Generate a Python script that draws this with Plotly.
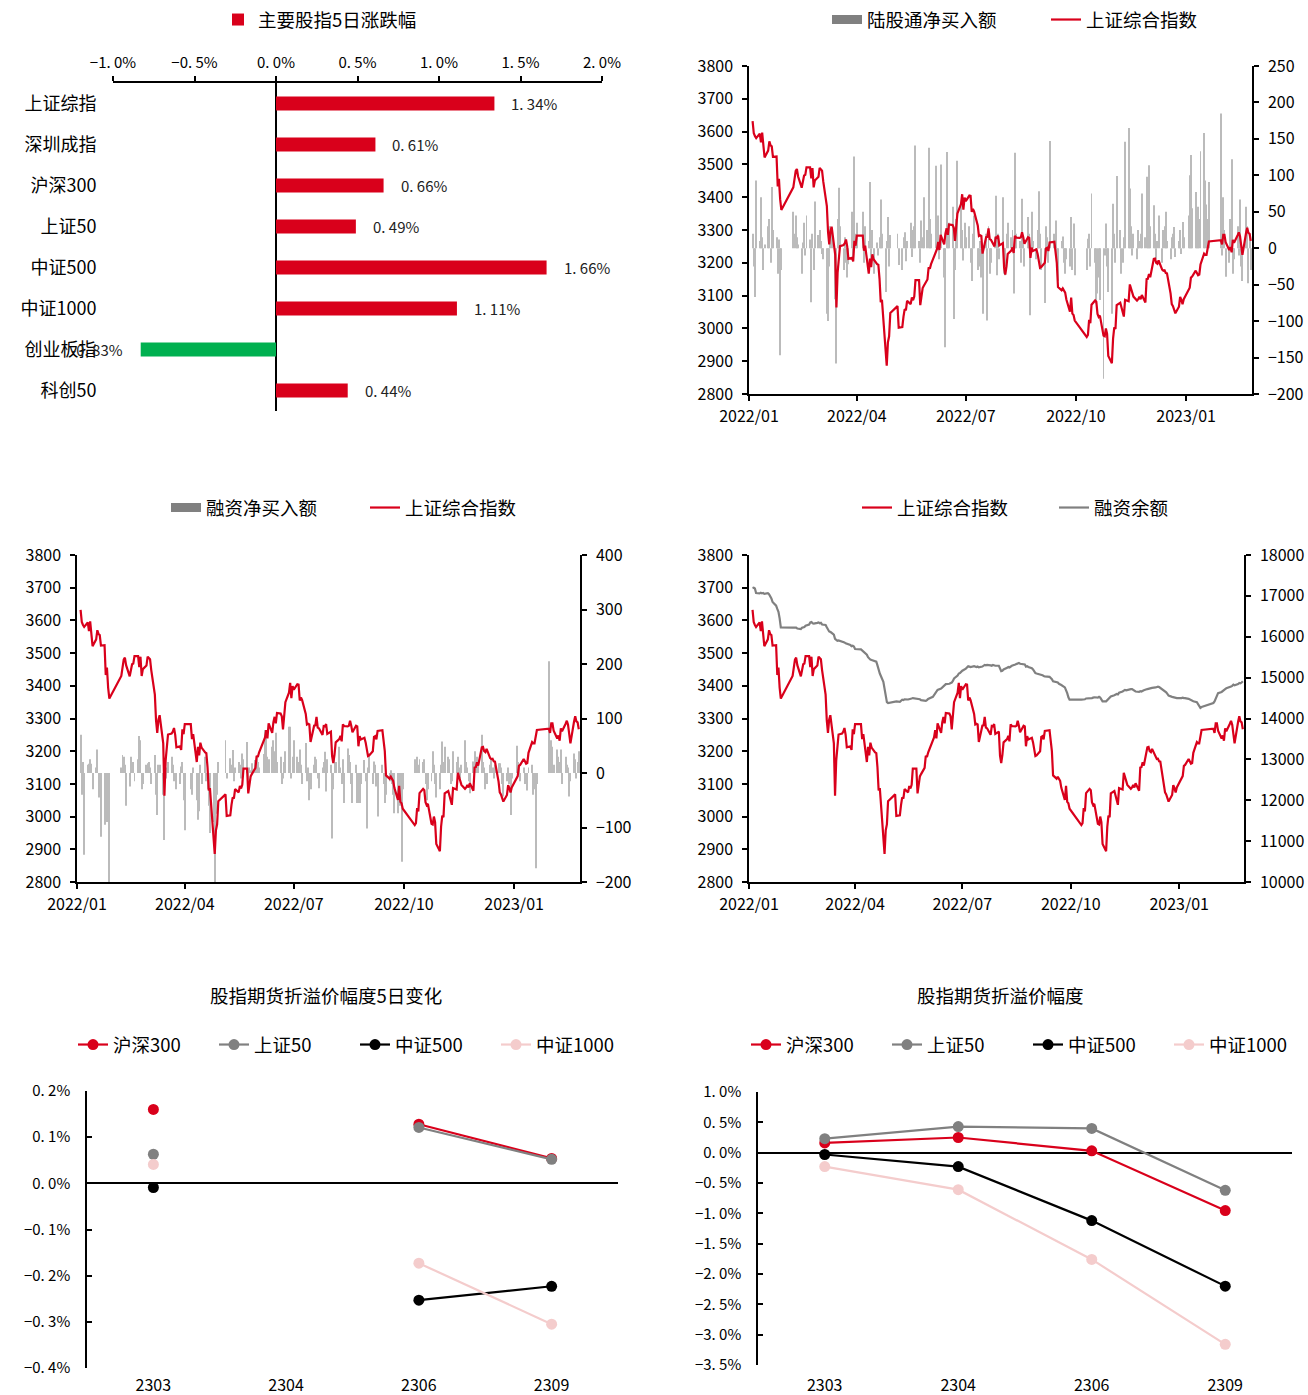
import pandas as pd
import plotly.graph_objects as go

FONT = "Noto Sans CJK SC"
RED = "#D9001B"
GREY = "#808080"
BARGREY = "#BBBBBB"
GREEN = "#00B050"
PINK = "#F4CCCC"

# ---------------- panel 1: 5-day change of main indices ----------------
bar_names = ["上证综指", "深圳成指", "沪深300", "上证50", "中证500", "中证1000", "创业板指", "科创50"]
bar_values = [1.34, 0.61, 0.66, 0.49, 1.66, 1.11, -0.83, 0.44]
pct_ticks = [-1.0, -0.5, 0.0, 0.5, 1.0, 1.5, 2.0]
pct_ticktext = ["−1. 0%", "−0. 5%", "0. 0%", "0. 5%", "1. 0%", "1. 5%", "2. 0%"]

# ---------------- trading calendar (categories) ----------------
holidays = ["2022-01-03", "2022-01-31", "2022-02-01", "2022-02-02", "2022-02-03", "2022-02-04",
            "2022-04-04", "2022-04-05", "2022-05-02", "2022-05-03", "2022-05-04", "2022-06-03",
            "2022-09-12", "2022-10-03", "2022-10-04", "2022-10-05", "2022-10-06", "2022-10-07",
            "2023-01-02", "2023-01-23", "2023-01-24", "2023-01-25", "2023-01-26", "2023-01-27"]
_bd = pd.bdate_range("2022-01-04", "2023-02-24")
trade_dates = _bd[~_bd.isin(pd.to_datetime(holidays))]

# 上证综合指数 (daily close)
sh_index = [
    3632, 3595, 3586, 3580, 3594, 3567, 3597, 3555, 3521, 3542, 3570, 3558, 3555, 3523, 3524, 3433, 3456, 3394, 3361,
    3430, 3453, 3480, 3486, 3463, 3429, 3447, 3466, 3468, 3491, 3491, 3457, 3489, 3430, 3451, 3462,
    3489, 3484, 3481, 3448, 3373, 3294, 3256, 3296, 3310, 3224, 3064, 3171, 3215, 3251, 3254, 3260, 3271, 3250, 3212, 3215, 3204, 3267, 3252,
    3283, 3283, 3237, 3252, 3167, 3213, 3187, 3226, 3211, 3196, 3194, 3151, 3080, 3087, 2929, 2886, 2958, 2976, 3047,
    3068, 3002, 3004, 3036, 3059, 3055, 3084, 3074, 3094, 3086, 3097, 3147, 3147, 3071, 3108, 3123, 3130, 3149, 3186,
    3182, 3196, 3236, 3242, 3264, 3239, 3285, 3256, 3289, 3305, 3285, 3317, 3315, 3307, 3267, 3320, 3350, 3379, 3409, 3362, 3399,
    3388, 3405, 3404, 3355, 3364, 3356, 3314, 3282, 3284, 3282, 3228, 3278, 3279, 3305, 3272, 3270, 3250, 3277, 3276, 3283, 3253,
    3260, 3186, 3164, 3189, 3227, 3237, 3247, 3230, 3282, 3277, 3276, 3278, 3293, 3278, 3258, 3278, 3276, 3215, 3246, 3236, 3241, 3227, 3202,
    3185, 3187, 3200, 3244, 3246, 3236, 3262, 3264, 3238, 3200, 3126, 3116, 3122, 3117, 3109, 3088, 3051, 3094, 3045, 3041, 3024,
    2974, 2980, 3026, 3016, 3072, 3085, 3081, 3044, 3035, 3039, 2978, 2976, 3000, 2983, 2916, 2894,
    2969, 3003, 2998, 3071, 3078, 3065, 3048, 3036, 3087, 3083, 3134, 3120, 3115, 3097, 3085, 3089, 3097, 3089, 3102, 3079, 3150, 3151,
    3166, 3156, 3212, 3213, 3200, 3197, 3207, 3179, 3176, 3177, 3169, 3168, 3107, 3074, 3068, 3054, 3046, 3066, 3096, 3087, 3074, 3089,
    3117, 3124, 3155, 3158, 3176, 3170, 3162, 3164, 3195, 3228, 3224, 3224, 3240, 3265, 3269, 3256,
    3285, 3285, 3263, 3239, 3248, 3232, 3270, 3261, 3284, 3293, 3281, 3249, 3224, 3290, 3307, 3291, 3288, 3267,
]

# 陆股通净买入额 (亿元)
north_flow = [
    20, -25, -67, 93, 10, 70, 15, -30, 5, 30, 40, -20, 84, 25, 15, -35, 12, -147, -30,
    50, 20, 45, 15, 5, -35, 8, 35, -10, 45, 12, -74, 20, -30, 64, 18,
    25, 10, -8, -15, -90, -100, -25, 30, 25, -70, -158, 40, 83, 30, -30, 15, -20, -40, -22, 50, -15, 126, 20,
    35, 50, -20, 30, 10, 91, -15, 25, -35, 8, -10, 15, 67, 20, -60, 10, 43, -25, 18,
    20, -23, -30, 15, 22, -18, 10, 35, -12, 25, 30, 141, 10, -20, 38, 15, 70, 25, 138,
    40, 20, 113, 30, 45, -15, 115, -40, -136, 132, 20, 35, 57, -97, -30, 40, 120, 60, 25, -17, 35,
    15, 30, -20, -45, 20, 45, -30, -25, 10, -40, -90, 20, -99, 30, -35, -20, 15, 72, -37, 20, -15,
    70, -35, -37, 20, 35, 15, 25, -62, 131, 20, 10, -20, 68, 10, -25, 43, 20, -92, 50, 10, -15, 25, 78,
    20, -30, -75, 30, 15, -20, 147, 20, 38, -25, -45, 10, 16, -20, -35, -15, -25, 43, -30, 34, -37,
    -30, 13, 20, -25, 75, -20, -76, -62, -40, -71, -179, -10, 34, -25, -60, -90,
    61, 20, -20, 99, 25, -35, -20, 15, 146, 165, 82, 30, -10, 20, -15, 25, 10, 20, 75, 15, 98, 60,
    114, 30, 59, 20, -15, 10, 45, -20, 25, 30, 50, 10, -15, 15, 20, 29, -12, 10, 25, -8, 36, 15,
    45, 100, 128, 55, 77, 30, 57, 40, 133, 158, 93, 60, 40, 91, 185, -10,
    70, 25, -39, -20, 40, 122, -35, -15, 30, -10, 67, -25, -45, 57, 30, -48, 20, -30,
]

# 融资净买入额 (亿元)
margin_flow = [
    70, -40, 20, -150, 15, 17, 25, 17, -30, 10, 43, -45, -20, -117, -95, -90, -90, -40, -200,
    10, 33, 30, 15, -60, -25, 30, 10, 20, -15, 25, 68, 60, -30, -20, 15,
    18, 20, 10, -20, 33, -40, -77, 15, 15, -40, -123, -10, 10, 20, 30, 15, -15, -10, -30, -20, 12, 20, -50,
    -105, -30, -40, 10, -50, -86, -70, 15, -20, 30, -15, -30, -60, -110, -90, -200, -75, -40, 20,
    60, -10, 27, 15, 42, -15, 10, 20, 15, -10, 36, 25, 57, -30, 10, 5, 18, 24, 30,
    20, 10, 35, 79, 67, 30, 25, 48, 60, 40, 74, 20, 30, -20, -10, 20, 40, 85, 85, -10, 30,
    60, 30, 20, 43, 15, -20, 55, -15, 10, -50, -30, 15, 30, 25, -10, -28, 10, 20, 39, -34, 25,
    15, -120, -30, 30, 20, 48, 10, -20, 25, -55, 45, 33, 20, -20, -55, 15, -55, -55, -55, -20, 24, -15, -102,
    10, 36, -20, 21, 15, -25, -80, 15, -20, -55, -40, -15, 5, -20, -40, -74, -74, -20, -60, -163, -30,
    25, 20, 30, 15, 25, 20, 25, -20, -50, -30, -15, 40, 15, -20, -45, -30,
    15, 58, 20, 48, 30, 25, -20, -15, 40, 20, 30, 10, -10, 15, 60, 20, 10, -15, -37, 21, 40, 25,
    30, 15, 70, 20, 10, -30, -20, 15, 27, 10, -10, 15, 18, 18, 10, -20, -43, -15, 10, -20, -77, -10,
    50, 20, 15, -15, 10, -20, -10, -32, 10, 15, -40, -30, -175, -20, 205, 20,
    60, 48, 15, 43, 30, 20, 43, -20, 30, 15, 10, -43, -15, 36, 25, -10, 20, 40,
]

# 融资余额 (亿元)
margin_balance = [
    17190, 17200, 17180, 17070, 17060, 17075, 17060, 17070, 17050, 17065, 17040, 16990, 16940, 16850, 16760, 16680, 16610, 16450, 16230,
    16225, 16230, 16235, 16225, 16200, 16190, 16220, 16230, 16240, 16270, 16300, 16350, 16360, 16330, 16320, 16340,
    16350, 16330, 16340, 16300, 16290, 16230, 16170, 16130, 16120, 16050, 15950, 15920, 15900, 15910, 15890, 15880, 15860, 15840, 15830, 15800, 15770, 15780, 15760,
    15700, 15690, 15660, 15640, 15560, 15500, 15460, 15440, 15430, 15410, 15390, 15300, 15200, 15100, 14900, 14700, 14550, 14400, 14380,
    14400, 14420, 14410, 14440, 14460, 14450, 14470, 14465, 14480, 14480, 14490, 14500, 14490, 14470, 14480, 14470, 14450, 14440, 14430,
    14450, 14480, 14530, 14580, 14620, 14650, 14700, 14730, 14760, 14800, 14820, 14840, 14850, 14860, 14880, 14920, 14980, 15050, 15100, 15110, 15140,
    15170, 15220, 15260, 15280, 15270, 15260, 15280, 15270, 15260, 15270, 15250, 15270, 15290, 15310, 15300, 15310, 15300, 15290, 15310, 15300, 15290,
    15290, 15200, 15160, 15170, 15200, 15240, 15260, 15250, 15280, 15290, 15320, 15330, 15350, 15360, 15340, 15330, 15320, 15270, 15280, 15260, 15230, 15200, 15140,
    15110, 15100, 15080, 15070, 15060, 15040, 15030, 15020, 15000, 14960, 14910, 14890, 14880, 14850, 14840, 14820, 14760, 14700, 14620, 14520, 14460,
    14460, 14460, 14470, 14470, 14490, 14490, 14500, 14500, 14510, 14520, 14510, 14530, 14510, 14460, 14420, 14420,
    14450, 14490, 14510, 14540, 14570, 14590, 14600, 14590, 14630, 14660, 14680, 14700, 14690, 14700, 14720, 14720, 14700, 14680, 14660, 14650, 14670, 14660,
    14680, 14690, 14720, 14730, 14740, 14740, 14750, 14760, 14780, 14780, 14770, 14750, 14700, 14680, 14640, 14600, 14560, 14530, 14520, 14520, 14510, 14500,
    14500, 14510, 14500, 14500, 14480, 14460, 14450, 14430, 14420, 14400, 14340, 14300, 14260, 14280, 14380, 14420,
    14500, 14560, 14620, 14650, 14680, 14700, 14720, 14740, 14760, 14780, 14800, 14830, 14810, 14840, 14870, 14860, 14880, 14910,
]

# ---------------- futures basis ----------------
contracts = ["2303", "2304", "2306", "2309"]
fut_names = ["沪深300", "上证50", "中证500", "中证1000"]
fut_colors = [RED, GREY, "#000000", PINK]
chg5_hs300 = [0.160, None, 0.128, 0.054]
chg5_sz50 = [0.063, None, 0.121, 0.052]
chg5_zz500 = [-0.009, None, -0.253, -0.223]
chg5_zz1000 = [0.041, None, -0.173, -0.305]
basis_hs300 = [0.16, 0.25, 0.03, -0.955]
basis_sz50 = [0.23, 0.43, 0.40, -0.62]
basis_zz500 = [-0.03, -0.23, -1.12, -2.20]
basis_zz1000 = [-0.23, -0.61, -1.76, -3.16]
chg5_ticks = [-0.4, -0.3, -0.2, -0.1, 0.0, 0.1, 0.2]
chg5_ticktext = ["−0. 4%", "−0. 3%", "−0. 2%", "−0. 1%", "0. 0%", "0. 1%", "0. 2%"]
basis_ticks = [-3.5, -3.0, -2.5, -2.0, -1.5, -1.0, -0.5, 0.0, 0.5, 1.0]
basis_ticktext = ["−3. 5%", "−3. 0%", "−2. 5%", "−2. 0%", "−1. 5%", "−1. 0%", "−0. 5%", "0. 0%", "0. 5%", "1. 0%"]

assert len(trade_dates) == len(sh_index) == len(north_flow) == len(margin_flow) == len(margin_balance), (
    len(trade_dates), len(sh_index), len(north_flow), len(margin_flow), len(margin_balance))

W, H = 1308, 1395
LEG_FS = 18.5


def px(x0, x1):
    return [x0 / W, x1 / W]


def py(top, bottom):
    return [1 - bottom / H, 1 - top / H]


fig = go.Figure()

# panel 1
fig.add_trace(go.Bar(
    y=bar_names, x=bar_values, orientation="h",
    marker=dict(color=[GREEN if v < 0 else RED for v in bar_values], line=dict(width=0)),
    width=0.34,
    name="主要股指5日涨跌幅", xaxis="x", yaxis="y", legend="legend",
))
bar_annots = [
    dict(x=v, y=n, xref="x", yref="y", text=f"{v:.2f}%".replace(".", ". "), showarrow=False,
         xanchor="left" if v >= 0 else "right", xshift=15 if v >= 0 else -16,
         font=dict(size=15, color="#222", family=FONT))
    for n, v in zip(bar_names, bar_values)
]

DAY_MS = 86400000

# panel 2: northbound
fig.add_trace(go.Bar(x=trade_dates, y=north_flow, marker=dict(color=BARGREY, line=dict(width=0)),
                     width=DAY_MS * 0.8, showlegend=False, xaxis="x2", yaxis="y2"))
fig.add_trace(go.Scatter(x=[None], y=[None], mode="lines", line=dict(color=GREY, width=9),
                         name="陆股通净买入额", xaxis="x2", yaxis="y2", legend="legend2"))
fig.add_trace(go.Scatter(x=trade_dates, y=sh_index, mode="lines", line=dict(color=RED, width=2.2),
                         name="上证综合指数", xaxis="x2", yaxis="y3", legend="legend2"))

# panel 3: margin net buy
fig.add_trace(go.Bar(x=trade_dates, y=margin_flow, marker=dict(color=BARGREY, line=dict(width=0)),
                     width=DAY_MS * 0.8, showlegend=False, xaxis="x3", yaxis="y4"))
fig.add_trace(go.Scatter(x=[None], y=[None], mode="lines", line=dict(color=GREY, width=9),
                         name="融资净买入额", xaxis="x3", yaxis="y4", legend="legend3"))
fig.add_trace(go.Scatter(x=trade_dates, y=sh_index, mode="lines", line=dict(color=RED, width=2.2),
                         name="上证综合指数", xaxis="x3", yaxis="y5", legend="legend3"))

# panel 4: margin balance
fig.add_trace(go.Scatter(x=trade_dates, y=margin_balance, mode="lines", line=dict(color=GREY, width=2.2),
                         name="融资余额", xaxis="x4", yaxis="y6", legend="legend4", legendrank=2))
fig.add_trace(go.Scatter(x=trade_dates, y=sh_index, mode="lines", line=dict(color=RED, width=2.2),
                         name="上证综合指数", xaxis="x4", yaxis="y7", legend="legend4", legendrank=1))

# panel 5 & 6
for name, color, v5, v6 in zip(fut_names, fut_colors,
                               [chg5_hs300, chg5_sz50, chg5_zz500, chg5_zz1000],
                               [basis_hs300, basis_sz50, basis_zz500, basis_zz1000]):
    fig.add_trace(go.Scatter(x=contracts, y=v5, mode="lines+markers", name=name,
                             line=dict(color=color, width=2.2), marker=dict(color=color, size=11),
                             xaxis="x5", yaxis="y8", legend="legend5", connectgaps=False))
    fig.add_trace(go.Scatter(x=contracts, y=v6, mode="lines+markers", name=name,
                             line=dict(color=color, width=2.2), marker=dict(color=color, size=11),
                             xaxis="x6", yaxis="y9", legend="legend6"))

base = dict(showgrid=False, zeroline=False, showline=True, linecolor="black", linewidth=1.5,
            ticks="outside", ticklen=5, tickwidth=1.5, tickcolor="black", automargin=False,
            ticklabelstandoff=6, tickfont=dict(size=16, color="black", family=FONT))

date_axis = dict(base, type="date", range=["2022-01-01", "2023-02-25"], tickformat="%Y/%m",
                 dtick="M3", tick0="2022-01-01", ticklabelstandoff=2)
idx_axis = dict(base, range=[2800, 3800], dtick=100, tick0=2800)

legend_base = dict(orientation="h", xanchor="center", yanchor="middle", bgcolor="rgba(0,0,0,0)",
                   font=dict(size=LEG_FS, color="black", family=FONT), itemwidth=30)

fig.update_layout(
    template="none",
    width=W, height=H, margin=dict(l=0, r=0, t=0, b=0, autoexpand=False),
    paper_bgcolor="white", plot_bgcolor="white",
    font=dict(family=FONT, color="black"),
    bargap=0.1,
    # panel 1
    xaxis=dict(base, domain=px(113, 602), anchor="y", side="top", range=[-1, 2], ticklabelstandoff=2,
               tickvals=pct_ticks, ticktext=pct_ticktext, tickfont=dict(size=15, color="black", family=FONT),
               zeroline=True, zerolinecolor="black", zerolinewidth=1.5),
    yaxis=dict(domain=py(83, 411), anchor="x", type="category", autorange="reversed", automargin=False,
               showline=False, showgrid=False, ticks="outside", ticklen=12, tickcolor="rgba(0,0,0,0)",
               tickfont=dict(size=18, color="black", family=FONT)),
    # panel 2
    xaxis2=dict(date_axis, domain=px(749, 1252), anchor="y2"),
    yaxis2=dict(base, domain=py(66, 394), anchor="x2", side="right", range=[-200, 250], dtick=50, tick0=0),
    yaxis3=dict(idx_axis, anchor="x2", overlaying="y2", side="left"),
    # panel 3
    xaxis3=dict(date_axis, domain=px(77, 580), anchor="y4"),
    yaxis4=dict(base, domain=py(555, 882), anchor="x3", side="right", range=[-200, 400], dtick=100, tick0=0),
    yaxis5=dict(idx_axis, anchor="x3", overlaying="y4", side="left"),
    # panel 4
    xaxis4=dict(date_axis, domain=px(749, 1244), anchor="y6"),
    yaxis6=dict(base, domain=py(555, 882), anchor="x4", side="right", range=[10000, 18000], dtick=1000,
                tick0=10000, tickformat="d"),
    yaxis7=dict(idx_axis, anchor="x4", overlaying="y6", side="left"),
    # panel 5
    xaxis5=dict(domain=px(87, 618), anchor="y8", type="category", range=[-0.5, 3.5], showline=False,
                showgrid=False, zeroline=False, ticks="", automargin=False, ticklabelstandoff=6,
                tickfont=dict(size=16, color="black", family=FONT)),
    yaxis8=dict(base, domain=py(1091, 1368), anchor="x5", range=[-0.4, 0.2], tickvals=chg5_ticks,
                ticktext=chg5_ticktext, ticks="inside", zeroline=True, zerolinecolor="black", zerolinewidth=1.5,
                ticklabelstandoff=12, tickfont=dict(size=15, color="black", family=FONT)),
    # panel 6
    xaxis6=dict(domain=px(758, 1292), anchor="y9", type="category", range=[-0.5, 3.5], showline=False,
                showgrid=False, zeroline=False, ticks="", automargin=False, ticklabelstandoff=9,
                tickfont=dict(size=16, color="black", family=FONT)),
    yaxis9=dict(base, domain=py(1092, 1365), anchor="x6", range=[-3.5, 1.0], tickvals=basis_ticks,
                ticktext=basis_ticktext, ticks="inside", zeroline=True, zerolinecolor="black", zerolinewidth=1.5,
                ticklabelstandoff=12, tickfont=dict(size=15, color="black", family=FONT)),
    legend=dict(legend_base, x=320 / W, y=1 - 20 / H),
    legend2=dict(legend_base, x=1046 / W, y=1 - 20 / H, entrywidth=174),
    legend3=dict(legend_base, x=365 / W, y=1 - 508 / H, entrywidth=154),
    legend4=dict(legend_base, x=1054 / W, y=1 - 508 / H, entrywidth=152, traceorder="normal"),
    legend5=dict(legend_base, x=355 / W, y=1 - 1045 / H, entrywidth=96),
    legend6=dict(legend_base, x=1028 / W, y=1 - 1045 / H, entrywidth=96),
    annotations=bar_annots + [
        dict(text="股指期货折溢价幅度5日变化", x=326 / W, y=1 - 995 / H, xref="paper", yref="paper",
             showarrow=False, font=dict(size=LEG_FS, color="black", family=FONT), xanchor="center", yanchor="middle"),
        dict(text="股指期货折溢价幅度", x=1000 / W, y=1 - 995 / H, xref="paper", yref="paper",
             showarrow=False, font=dict(size=LEG_FS, color="black", family=FONT), xanchor="center", yanchor="middle"),
    ],
)

fig.write_html("out.html")
